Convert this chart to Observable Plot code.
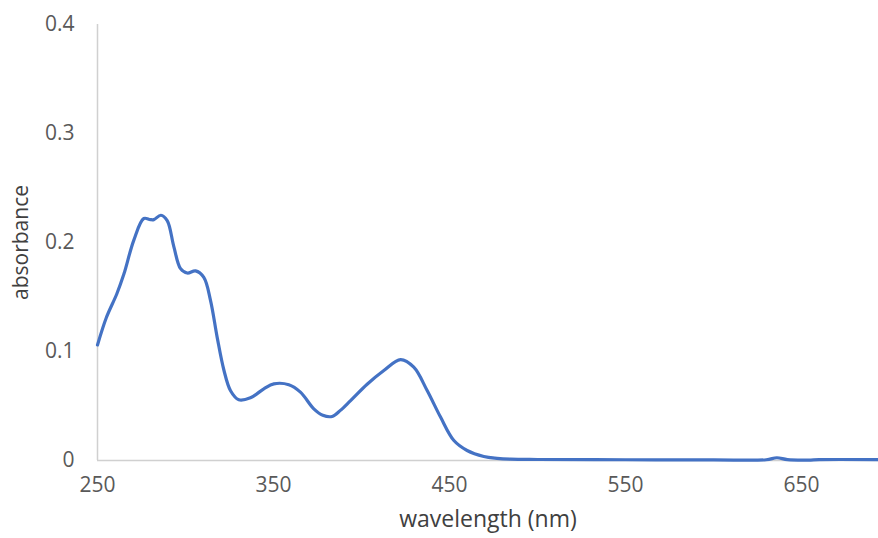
<!DOCTYPE html>
<html>
<head>
<meta charset="utf-8">
<script src="https://cdn.jsdelivr.net/npm/d3@7"></script>
<script src="https://cdn.jsdelivr.net/npm/@observablehq/plot@0.6"></script>
<style>
  html, body { margin: 0; padding: 0; background: #fff; }
  svg { display: block; }
</style>
</head>
<body>
<div id="chart"></div>
<script>
const wavelength = [250, 255, 261, 265, 270.6, 276.3, 280, 282, 286, 289.6, 293.4, 297.2, 301, 305.7, 310.4, 314.2, 318, 321.8, 325.6, 330.3, 336.9, 344.5, 350.2, 358.7, 365.3, 372.9, 378, 383.3, 388, 393.8, 403.2, 412.7, 422.2, 429.7, 437.3, 444.9, 452.5, 460, 469.5, 477, 484.7, 500, 550, 600, 630, 636, 642, 654, 660, 694];
const absorbance = [0.106, 0.131, 0.153, 0.171, 0.202, 0.222, 0.221, 0.221, 0.225, 0.220, 0.196, 0.176, 0.172, 0.174, 0.168, 0.147, 0.113, 0.083, 0.064, 0.0557, 0.0575, 0.0657, 0.0703, 0.0695, 0.0627, 0.0474, 0.0415, 0.0404, 0.046, 0.055, 0.070, 0.0826, 0.0926, 0.0856, 0.0642, 0.0398, 0.0183, 0.0092, 0.0037, 0.002, 0.0012, 0.0009, 0.0007, 0.0006, 0.0007, 0.0025, 0.0008, 0.0004, 0.0008, 0.0008];
const xTicks = [250, 350, 450, 550, 650];
const yTicks = [0, 0.1, 0.2, 0.3, 0.4];
const xTitle = "wavelength (nm)";
const yTitle = "absorbance";

const data = wavelength.map((w, i) => ({w, a: absorbance[i]}));

const chart = Plot.plot({
  width: 878,
  height: 538,
  marginLeft: 97,
  marginRight: 0,
  marginTop: 24,
  marginBottom: 78,
  style: {fontFamily: "'Open Sans', sans-serif", fontSize: "21px", color: "#595959", background: "#fff"},
  x: {domain: [250, 693.75]},
  y: {domain: [0, 0.4]},
  marks: [
    Plot.ruleX([250], {stroke: "#d0d0d0", strokeWidth: 1.5}),
    Plot.ruleY([0], {stroke: "#d0d0d0", strokeWidth: 1.5}),
    Plot.axisX(xTicks, {tickSize: 0, tickPadding: 17, label: null, fill: "#595959", fontSize: 21}),
    Plot.axisY(yTicks, {tickSize: 0, tickPadding: 23, label: null, fill: "#595959", fontSize: 21, tickFormat: d => d === 0 ? "0" : d3.format(".1f")(d)}),
    Plot.line(data, {x: "w", y: "a", stroke: "#4472C4", strokeWidth: 3.2, curve: "catmull-rom"}),
    Plot.text([xTitle], {frameAnchor: "bottom", dy: 66, fill: "#404040", fontSize: 23}),
    Plot.text([yTitle], {frameAnchor: "left", textAnchor: "middle", dx: -76, rotate: -90, fill: "#404040", fontSize: 21})
  ]
});
document.getElementById("chart").append(chart);
</script>
</body>
</html>
